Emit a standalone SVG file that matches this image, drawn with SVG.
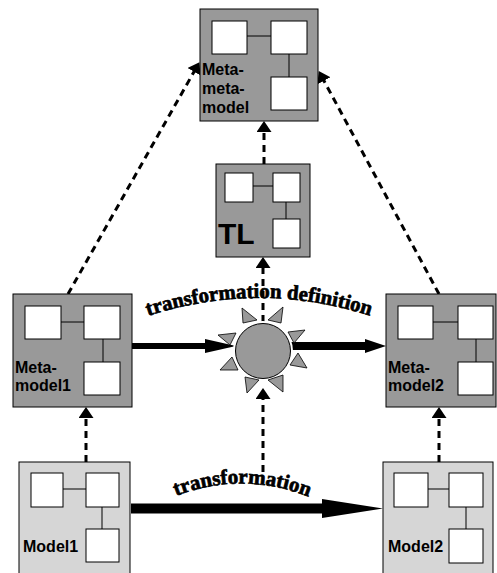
<svg xmlns="http://www.w3.org/2000/svg" xmlns:xlink="http://www.w3.org/1999/xlink" width="497" height="573" viewBox="0 0 497 573">
  <style>
    .dark { fill: #999999; stroke: #000; stroke-width: 1; }
    .light { fill: #d6d6d6; stroke: #000; stroke-width: 1; }
    .cell { fill: #fff; stroke: #000; stroke-width: 1; }
    .link { stroke: #000; stroke-width: 1; fill: none; }
    .label { font-family: "Liberation Sans", Arial, sans-serif; font-weight: bold; font-size: 16px; fill: #000; }
    .big { font-size: 30px; }
    .curved { font-family: "Liberation Serif", "Times New Roman", serif; font-weight: bold; font-size: 21px; fill: #000; stroke: #000; stroke-width: 0.7; }
    .dash { stroke: #000; stroke-width: 3; stroke-dasharray: 7 5; fill: none; marker-end: url(#head); }
    .thick { fill: #000; }
    .ray { fill: #999999; stroke: #000; stroke-width: 0.8; }
  </style>
  <defs>
    <marker id="head" viewBox="0 0 11 15" refX="2" refY="7.5" markerWidth="11" markerHeight="15" markerUnits="userSpaceOnUse" orient="auto">
      <path d="M0,0 L11,7.5 L0,15 z" fill="#000"/>
    </marker>
    <path id="arcDef" d="M148,316 Q262,279 377,318"/>
    <path id="arcTr" d="M176,496 Q243,470 312,498"/>
  </defs>

  <!-- connectors -->
  <g id="connectors">
    <line class="dash" x1="86" y1="462" x2="86" y2="416"/>
    <line class="dash" x1="439" y1="462" x2="439" y2="416"/>
    <line class="dash" x1="263" y1="472" x2="263" y2="397"/>
    <line class="dash" x1="263" y1="322" x2="263" y2="266"/>
    <line class="dash" x1="264" y1="164" x2="264" y2="130"/>
    <line class="dash" x1="68" y1="294" x2="195" y2="70"/>
    <line class="dash" x1="439" y1="294" x2="323" y2="79"/>
    <!-- thick arrows -->
    <rect class="thick" x="132" y="343" width="76" height="6"/>
    <polygon class="thick" points="205,339 236,346 205,353"/>
    <rect class="thick" x="291" y="342" width="76" height="8"/>
    <polygon class="thick" points="365,339 386,346 365,353"/>
    <rect class="thick" x="131" y="503.5" width="193" height="10"/>
    <polygon class="thick" points="322,499 383,508.5 322,518"/>
  </g>

  <!-- Meta-meta-model -->
  <g id="metametamodel">
    <rect class="dark" x="200" y="9" width="118" height="112"/>
    <line class="link" x1="247" y1="36" x2="271" y2="36"/>
    <line class="link" x1="289" y1="54" x2="289" y2="77"/>
    <rect class="cell" x="212" y="21" width="35" height="33"/>
    <rect class="cell" x="271" y="21" width="36" height="33"/>
    <rect class="cell" x="271" y="77" width="36" height="33"/>
    <text class="label" x="202" y="75">Meta-</text>
    <text class="label" x="202" y="94">meta-</text>
    <text class="label" x="202" y="113">model</text>
  </g>

  <!-- TL -->
  <g id="tl">
    <rect class="dark" x="216" y="164" width="94" height="93"/>
    <line class="link" x1="253" y1="186" x2="273" y2="186"/>
    <line class="link" x1="286" y1="202" x2="286" y2="219"/>
    <rect class="cell" x="225" y="173" width="28" height="29"/>
    <rect class="cell" x="273" y="173" width="27" height="29"/>
    <rect class="cell" x="273" y="219" width="27" height="29"/>
    <text class="label big" x="218" y="244">TL</text>
  </g>

  <!-- Metamodel1 -->
  <g id="metamodel1">
    <rect class="dark" x="13" y="294" width="119" height="113"/>
    <line class="link" x1="61" y1="322" x2="84" y2="322"/>
    <line class="link" x1="103" y1="339" x2="103" y2="362"/>
    <rect class="cell" x="25" y="306" width="36" height="33"/>
    <rect class="cell" x="84" y="306" width="36" height="33"/>
    <rect class="cell" x="84" y="362" width="36" height="33"/>
    <text class="label" x="15" y="373">Meta-</text>
    <text class="label" x="15" y="391">model1</text>
  </g>

  <!-- Metamodel2 -->
  <g id="metamodel2">
    <rect class="dark" x="386" y="294" width="110" height="113"/>
    <line class="link" x1="433" y1="322" x2="458" y2="322"/>
    <line class="link" x1="476" y1="339" x2="476" y2="362"/>
    <rect class="cell" x="398" y="306" width="35" height="33"/>
    <rect class="cell" x="458" y="306" width="35" height="33"/>
    <rect class="cell" x="458" y="362" width="35" height="33"/>
    <text class="label" x="388" y="373">Meta-</text>
    <text class="label" x="388" y="391">model2</text>
  </g>

  <!-- Model1 -->
  <g id="model1">
    <rect class="light" x="19" y="462" width="111" height="120"/>
    <line class="link" x1="63" y1="489" x2="86" y2="489"/>
    <line class="link" x1="102" y1="507" x2="102" y2="529"/>
    <rect class="cell" x="31" y="473" width="32" height="34"/>
    <rect class="cell" x="86" y="473" width="33" height="34"/>
    <rect class="cell" x="86" y="529" width="33" height="33"/>
    <text class="label" x="23" y="552">Model1</text>
  </g>

  <!-- Model2 -->
  <g id="model2">
    <rect class="light" x="383" y="462" width="110" height="120"/>
    <line class="link" x1="428" y1="489" x2="449" y2="489"/>
    <line class="link" x1="466" y1="507" x2="466" y2="529"/>
    <rect class="cell" x="394" y="473" width="34" height="34"/>
    <rect class="cell" x="449" y="473" width="34" height="34"/>
    <rect class="cell" x="449" y="529" width="34" height="34"/>
    <text class="label" x="388" y="552">Model2</text>
  </g>

  <!-- transformation definition (sun) -->
  <g id="transformation-definition">
    <circle cx="263" cy="351" r="30" fill="#fff"/>
    <circle cx="263" cy="351" r="27.5" fill="#999999" stroke="#000" stroke-width="1"/>
    <polygon class="ray" points="242,308 257,320 243,323"/>
    <polygon class="ray" points="283,307 268,320 281,323"/>
    <polygon class="ray" points="218,335 236,333 230,345"/>
    <polygon class="ray" points="288,332 305,330 294,343"/>
    <polygon class="ray" points="220,370 232,357 238,370"/>
    <polygon class="ray" points="290,365 298,353 307,368"/>
    <polygon class="ray" points="245,377 259,380 247,393"/>
    <polygon class="ray" points="268,380 283,375 283,392"/>
    <text class="curved"><textPath xlink:href="#arcDef" textLength="226" lengthAdjust="spacingAndGlyphs">transformation definition</textPath></text>
  </g>

  <!-- transformation label -->
  <g id="transformation">
    <text class="curved"><textPath xlink:href="#arcTr" textLength="136" lengthAdjust="spacingAndGlyphs">transformation</textPath></text>
  </g>
</svg>
